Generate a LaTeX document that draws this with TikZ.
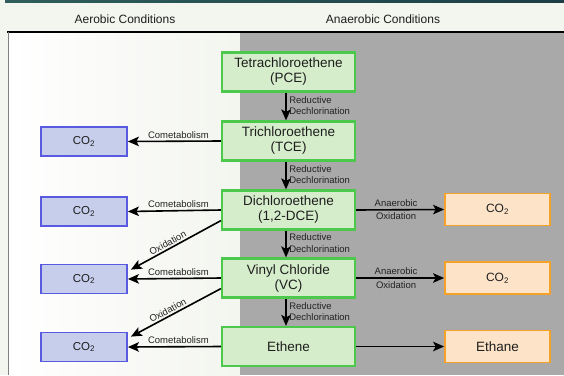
\documentclass[tikz,border=0pt]{standalone}
\usepackage{fontspec}
\setmainfont{Liberation Sans}
\usetikzlibrary{arrows.meta}
\definecolor{bgpale}{HTML}{F3F5EF}
\definecolor{panelgray}{HTML}{A9A9A9}
\definecolor{gfill}{HTML}{D6EDCB}
\definecolor{gline}{HTML}{4CC84C}
\definecolor{bfill}{HTML}{C6CEEC}
\definecolor{bline}{HTML}{5A5AE0}
\definecolor{ofill}{HTML}{FDE4C8}
\definecolor{oline}{HTML}{F5A22A}
\definecolor{txt}{HTML}{1E1E1E}
\definecolor{lbl}{HTML}{222222}
\begin{document}
\begin{tikzpicture}[x=1pt,y=-1pt,
  gbox/.style={draw=gline,line width=2.2pt,fill=gfill,minimum width=133pt,minimum height=39pt,inner sep=0pt,align=center,text=txt,font=\fontsize{13.5}{15}\selectfont},
  bbox/.style={draw=bline,line width=1.8pt,fill=bfill,minimum width=86pt,minimum height=29pt,inner sep=0pt,text=txt,font=\fontsize{11.5}{13}\selectfont},
  obox/.style={draw=oline,line width=1.8pt,fill=ofill,minimum width=105pt,minimum height=32pt,inner sep=0pt,text=txt,font=\fontsize{13.5}{15}\selectfont},
  osmall/.style={font=\fontsize{12}{14}\selectfont},
  arr/.style={line width=1.6pt,-{Stealth[length=11pt,width=9.5pt,inset=2.5pt]}},
  lab/.style={text=lbl,font=\fontsize{9.5}{11.3}\selectfont,inner sep=0.5pt},
  hdr/.style={text=txt,font=\fontsize{12}{14}\selectfont}
]
\useasboundingbox (0,0) rectangle (564,375);
\fill[bgpale] (0,0) rectangle (564,375);
\shade[left color=white,right color=bgpale] (8,32) rectangle (240,375);
\fill[panelgray] (240,32) rectangle (564,375);
\shade[left color={rgb,255:red,47;green,94;blue,92},right color={rgb,255:red,28;green,62;blue,70}] (5,0) rectangle (564,2.5);
\draw[line width=1.5pt,black] (7,32) -- (564,32);
\draw[line width=0.8pt,gray] (8,32) -- (8,375);
\node[hdr] (haer) at (125,19) {Aerobic Conditions};
\node[hdr] (hana) at (383,19) {Anaerobic Conditions};

\node[gbox] (pce) at (288.5,72) {Tetrachloroethene\\(PCE)};
\node[gbox] (tce) at (288.5,141) {Trichloroethene\\(TCE)};
\node[gbox] (dce) at (288.5,210) {Dichloroethene\\(1,2-DCE)};
\node[gbox] (vc) at (288.5,278) {Vinyl Chloride\\(VC)};
\node[gbox] (eth) at (288.5,346.5) {Ethene};

\node[bbox] (c1) at (84,141.5) {CO\textsubscript{2}};
\node[bbox] (c2) at (84,211.5) {CO\textsubscript{2}};
\node[bbox] (c3) at (84,279) {CO\textsubscript{2}};
\node[bbox] (c4) at (84,347) {CO\textsubscript{2}};

\node[obox,osmall] (o1) at (497.5,209.5) {CO\textsubscript{2}};
\node[obox,osmall] (o2) at (497.5,278) {CO\textsubscript{2}};
\node[obox] (o3) at (497.5,346.5) {Ethane};

\foreach \a/\b in {pce/tce,tce/dce,dce/vc,vc/eth}{
  \draw[arr] ([xshift=-2.5pt]\a.south) -- ([xshift=-2.5pt]\b.north)
    node[lab,midway,anchor=west,align=left,xshift=2pt,yshift=1pt] {Reductive\\Dechlorination};
}

\draw[arr] (tce.west) -- (c1.east) node[lab,midway,above=1.5pt,xshift=4pt] {Cometabolism};
\draw[arr] (dce.west) -- (c2.east) node[lab,midway,above=1.5pt,xshift=4pt] {Cometabolism};
\draw[arr] (vc.west) -- (c3.east) node[lab,midway,above=1.5pt,xshift=4pt] {Cometabolism};
\draw[arr] (eth.west) -- (c4.east) node[lab,midway,above=1.5pt,xshift=4pt] {Cometabolism};

\draw[arr] ([yshift=10pt]dce.south west) -- ([xshift=3pt,yshift=-6pt]c3.north east) node[lab,pos=0.56,sloped,above=1pt] {Oxidation};
\draw[arr] ([yshift=10pt]vc.south west) -- ([xshift=3pt,yshift=-5pt]c4.north east) node[lab,pos=0.56,sloped,above=1pt] {Oxidation};

\draw[arr] (dce.east) -- (o1.west) node[lab,midway,above=2pt,xshift=-4pt] {Anaerobic} node[lab,midway,below=2pt,xshift=-4pt] {Oxidation};
\draw[arr] (vc.east) -- (o2.west) node[lab,midway,above=2pt,xshift=-4pt] {Anaerobic} node[lab,midway,below=2pt,xshift=-4pt] {Oxidation};
\draw[arr] (eth.east) -- (o3.west);
\end{tikzpicture}
\end{document}
